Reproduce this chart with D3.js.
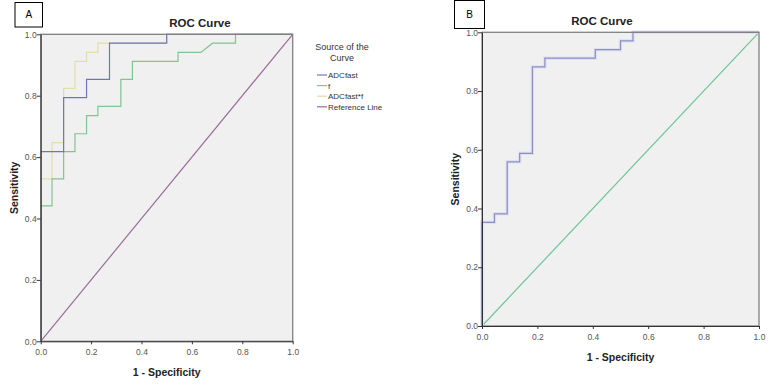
<!DOCTYPE html>
<html>
<head>
<meta charset="utf-8">
<script src="https://cdn.jsdelivr.net/npm/d3@7"></script>
<style>
  body { margin: 0; background: #fff; }
  svg { display: block; }
  .tick text { font-family: "Liberation Sans Narrow", "Arial Narrow", "Liberation Sans", Arial, sans-serif; fill: #555; font-size: 8.5px; }
  .tick line { stroke: #333; }
  .domain { stroke: #333; }
</style>
</head>
<body>
<div id="chart"></div>
<script>
// Axis ticks shared by both panels
const rocTicks = [0, 0.2, 0.4, 0.6, 0.8, 1.0];

// Panel A curves, [1 - specificity, sensitivity] corners
const adcfastA = [[0, 0], [0, 0.618], [0.091, 0.618], [0.091, 0.794], [0.182, 0.794], [0.182, 0.853],
    [0.273, 0.853], [0.273, 0.971], [0.5, 0.971], [0.5, 1], [1, 1]];
const fA = [[0, 0], [0, 0.441], [0.045, 0.441], [0.045, 0.529], [0.091, 0.529], [0.091, 0.618],
    [0.136, 0.618], [0.136, 0.676], [0.182, 0.676], [0.182, 0.735], [0.227, 0.735], [0.227, 0.765],
    [0.318, 0.765], [0.318, 0.853], [0.364, 0.853], [0.364, 0.912], [0.545, 0.912], [0.545, 0.941],
    [0.636, 0.941], [0.682, 0.971], [0.773, 0.971], [0.773, 1], [1, 1]];
const adcfastFA = [[0, 0], [0, 0.529], [0.045, 0.529], [0.045, 0.647], [0.091, 0.647], [0.091, 0.824],
    [0.136, 0.824], [0.136, 0.912], [0.182, 0.912], [0.182, 0.941], [0.227, 0.941], [0.227, 0.971],
    [0.5, 0.971], [0.5, 1], [1, 1]];
const referenceLine = [[0, 0], [1, 1]];

// Panel B curve
const adcfastB = [[0, 0], [0, 0.353], [0.045, 0.353], [0.045, 0.382], [0.091, 0.382], [0.091, 0.559],
    [0.136, 0.559], [0.136, 0.588], [0.182, 0.588], [0.182, 0.882], [0.227, 0.882], [0.227, 0.912],
    [0.409, 0.912], [0.409, 0.941], [0.5, 0.941], [0.5, 0.971], [0.545, 0.971], [0.545, 1], [1, 1]];

const legendNames = ["ADCfast", "f", "ADCfast*f", "Reference Line"];
const legendColors = ["#7075b5", "#80c490", "#e2dea6", "#9a6c9a"];

const svg = d3.select("#chart").append("svg")
    .attr("width", 777)
    .attr("height", 386);

function drawPanel(p) {
    const x = d3.scaleLinear().domain([0, 1]).range([p.left, p.right]);
    const y = d3.scaleLinear().domain([0, 1]).range([p.bottom, p.top]);
    const g = svg.append("g");

    // plot background
    g.append("rect")
        .attr("x", p.left).attr("y", p.top)
        .attr("width", p.right - p.left).attr("height", p.bottom - p.top)
        .attr("fill", "#f0f0f0");

    const line = d3.line().x(d => x(d[0])).y(d => y(d[1]));

    p.curves.forEach(c => {
        if (c.halo) {
            g.append("path").attr("d", line(c.data))
                .attr("fill", "none").attr("stroke", c.halo).attr("stroke-width", 3.5);
        }
        g.append("path").attr("d", line(c.data))
            .attr("fill", "none").attr("stroke", c.color).attr("stroke-width", 1.2);
    });

    // frame drawn over the curves, as in the original
    g.append("rect")
        .attr("x", p.left).attr("y", p.top)
        .attr("width", p.right - p.left).attr("height", p.bottom - p.top)
        .attr("fill", "none")
        .attr("stroke", "#808080")
        .attr("stroke-width", 1.3);

    g.append("g")
        .attr("transform", `translate(0,${p.bottom})`)
        .call(d3.axisBottom(x).tickValues(rocTicks).tickFormat(d3.format(".1f")).tickSize(3).tickSizeOuter(0))
        .call(a => a.selectAll(".tick text").attr("dy", "0.9em"));

    g.append("g")
        .attr("transform", `translate(${p.left},0)`)
        .call(d3.axisLeft(y).tickValues(rocTicks).tickFormat(d3.format(".1f")).tickSize(4).tickSizeOuter(0))
        .call(a => a.selectAll(".tick text").attr("x", -4));

    // title
    g.append("text")
        .attr("x", p.titleX).attr("y", p.top - 7)
        .attr("text-anchor", "middle")
        .attr("font-family", "Liberation Sans, Arial, sans-serif")
        .attr("font-weight", "bold").attr("font-size", 11.5).attr("fill", "#222")
        .text("ROC Curve");

    g.append("text")
        .attr("x", (p.left + p.right) / 2).attr("y", p.bottom + 35)
        .attr("text-anchor", "middle")
        .attr("font-family", "Liberation Sans, Arial, sans-serif")
        .attr("font-weight", "bold").attr("font-size", 10.5).attr("fill", "#222")
        .text("1 - Specificity");

    g.append("text")
        .attr("transform", `translate(${p.left - 23},${(p.top + p.bottom) / 2}) rotate(-90)`)
        .attr("text-anchor", "middle")
        .attr("font-family", "Liberation Sans, Arial, sans-serif")
        .attr("font-weight", "bold").attr("font-size", 10.5).attr("fill", "#222")
        .text("Sensitivity");

    // panel letter box
    g.append("rect")
        .attr("x", p.box[0]).attr("y", p.box[1])
        .attr("width", p.box[2]).attr("height", p.box[3])
        .attr("fill", "#fff").attr("stroke", "#000").attr("stroke-width", 1);
    g.append("text")
        .attr("x", p.box[0] + p.box[2] / 2).attr("y", p.box[1] + p.box[3] / 2 + 3.5)
        .attr("text-anchor", "middle")
        .attr("font-family", "Liberation Sans, Arial, sans-serif")
        .attr("font-size", 10).attr("fill", "#000")
        .text(p.letter);
}

drawPanel({
    left: 40.7, right: 292.7, top: 34.3, bottom: 341.3, titleX: 200,
    letter: "A", box: [15, 2.5, 27.5, 24.5],
    curves: [
        { data: referenceLine, color: legendColors[3] },
        { data: adcfastFA, color: legendColors[2] },
        { data: fA, color: legendColors[1] },
        { data: adcfastA, color: legendColors[0] }
    ]
});

drawPanel({
    left: 482, right: 759, top: 32.3, bottom: 326, titleX: 602,
    letter: "B", box: [454.5, 0.5, 30, 28],
    curves: [
        { data: referenceLine, color: "#6cc596" },
        { data: adcfastB, color: "#8a8fc2", halo: "#dfe0f2" }
    ]
});

// legend for panel A
const legend = svg.append("g").attr("font-family", "Liberation Sans Narrow, Arial Narrow, Liberation Sans, Arial, sans-serif");
legend.append("text").attr("x", 342).attr("y", 50)
    .attr("text-anchor", "middle").attr("font-size", 9).attr("fill", "#333")
    .text("Source of the");
legend.append("text").attr("x", 342).attr("y", 61)
    .attr("text-anchor", "middle").attr("font-size", 9).attr("fill", "#333")
    .text("Curve");

const item = legend.selectAll("g.item").data(legendNames).enter().append("g")
    .attr("class", "item")
    .attr("transform", (d, i) => `translate(317,${75 + i * 10.6})`);
item.append("line")
    .attr("x1", 0).attr("x2", 10).attr("y1", 0).attr("y2", 0)
    .attr("stroke", (d, i) => legendColors[i]).attr("stroke-width", 1.2);
item.append("text")
    .attr("x", 11).attr("y", 3)
    .attr("font-size", 8).attr("fill", "#333")
    .text(d => d);
</script>
</body>
</html>
